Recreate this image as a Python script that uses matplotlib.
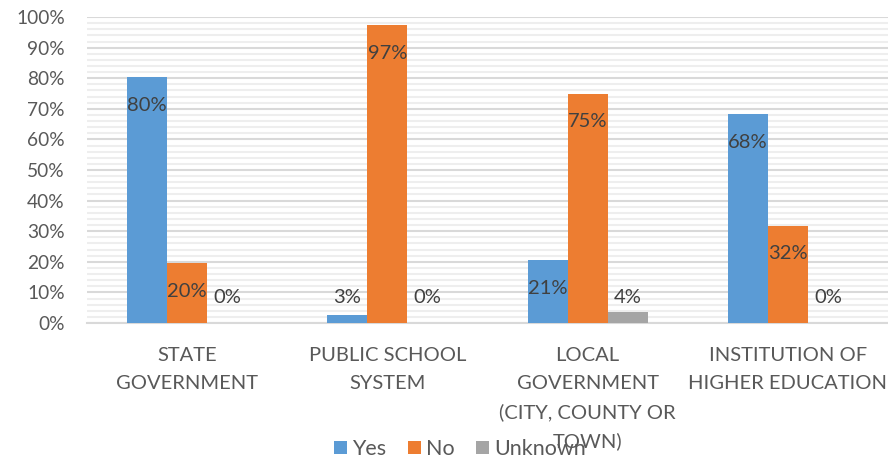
import numpy as np
import matplotlib
matplotlib.use("Agg")
from matplotlib import pyplot as plt
from matplotlib.ticker import MultipleLocator, PercentFormatter

categories = ["STATE\nGOVERNMENT", "PUBLIC SCHOOL\nSYSTEM",
              "LOCAL\nGOVERNMENT\n(CITY, COUNTY OR\nTOWN)",
              "INSTITUTION OF\nHIGHER EDUCATION"]
series_names = ["Yes", "No", "Unknown"]
yes = [80.4, 2.6, 20.6, 68.2]
no = [19.6, 97.4, 75.0, 31.8]
unknown = [0.0, 0.0, 3.6, 0.0]

colors = ["#5B9BD5", "#ED7D31", "#A5A5A5"]
txt = "#595959"

plt.rcParams['font.family'] = ['Lato', 'DejaVu Sans']

fig = plt.figure(figsize=(8.88, 4.58), dpi=100)
ax = fig.add_axes([0.098, 0.2948, 0.902, 0.668])

x = np.arange(len(categories))
w = 0.2
for i, (vals, name) in enumerate(zip([yes, no, unknown], series_names)):
    pos = x + (i - 1) * w
    ax.bar(pos, vals, width=w, color=colors[i], label=name, zorder=3)
    for px, v in zip(pos, vals):
        ly = max(v - 9.2, 8.2)
        ax.text(px, ly, f"{round(v):d}%", ha="center", va="center",
                fontsize=14.5, color="#404040", zorder=4)

ax.set_xlim(-0.5, 3.5)
ax.set_ylim(0, 100)
ax.yaxis.set_major_locator(MultipleLocator(10))
ax.yaxis.set_minor_locator(MultipleLocator(2))
ax.yaxis.set_major_formatter(PercentFormatter(decimals=0))
ax.grid(axis="y", which="major", color="#d9d9d9", linewidth=1.5, zorder=1)
ax.grid(axis="y", which="minor", color="#eeeeee", linewidth=1.5, zorder=0)
for s in ["top", "right", "left"]:
    ax.spines[s].set_visible(False)
ax.spines["bottom"].set_color("#d9d9d9")
ax.spines["bottom"].set_linewidth(1.5)
ax.set_xticks(x)
ax.set_xticklabels(categories, fontsize=14.5, color=txt, linespacing=1.78)
ax.tick_params(axis="x", length=0, pad=17)
ax.tick_params(axis="y", which="both", length=0, pad=16, labelsize=13.8, labelcolor=txt)

leg = fig.legend(loc="lower center", bbox_to_anchor=(0.518, -0.045), ncol=3,
                 frameon=False, fontsize=15.5, handlelength=0.6, handleheight=0.6,
                 handletextpad=0.25, columnspacing=1.0)
for t in leg.get_texts():
    t.set_color(txt)

fig.savefig("out.png", dpi=100)
